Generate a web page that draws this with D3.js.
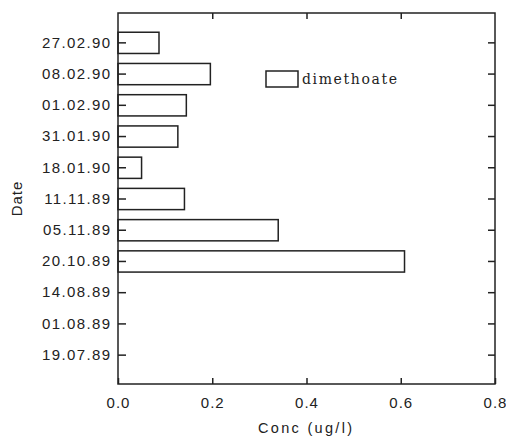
<!DOCTYPE html>
<html>
<head>
<meta charset="utf-8">
<script src="https://cdn.jsdelivr.net/npm/d3@7"></script>
<style>
  html, body { margin: 0; padding: 0; background: #fff; }
  svg { display: block; }
  text { fill: #222; }
</style>
</head>
<body>
<svg id="chart" width="506" height="441"></svg>
<script>
// ---- data ----
const dates = ["27.02.90", "08.02.90", "01.02.90", "31.01.90", "18.01.90", "11.11.89",
               "05.11.89", "20.10.89", "14.08.89", "01.08.89", "19.07.89"];
const dimethoate = [0.087, 0.196, 0.145, 0.127, 0.050, 0.141, 0.340, 0.608, null, null, null];
const xTicks = [0.0, 0.2, 0.4, 0.6, 0.8];
const seriesName = "dimethoate";
const xTitle = "Conc (ug/l)";
const yTitle = "Date";

// ---- layout ----
const pL = 118, pR = 495, pT = 13, pB = 384;
const ink = "#222";
const svg = d3.select("#chart");

const x = d3.scaleLinear().domain([0, 0.8]).range([pL, pR]);
const y = d3.scalePoint().domain(dates).range([pT, pB]).padding(0.94);
const barH = y.step() * 0.68;

// bars
const rows = dates.map((d, i) => ({ date: d, v: dimethoate[i] })).filter(r => r.v != null);
svg.append("g").selectAll("rect").data(rows).join("rect")
  .attr("x", x(0))
  .attr("y", d => y(d.date) - barH / 2 + 0.5)
  .attr("width", d => x(d.v) - x(0))
  .attr("height", barH)
  .attr("fill", "#fff")
  .attr("stroke", ink)
  .attr("stroke-width", 1.5);

// axes
const fontSans = "'Liberation Sans', Arial, sans-serif";
const gL = svg.append("g").attr("transform", `translate(${pL},0)`)
  .call(d3.axisLeft(y).tickSize(-8).tickPadding(6.5));
gL.selectAll("text").attr("font-family", fontSans).attr("font-size", 15)
  .attr("letter-spacing", 1.4).attr("fill", ink);

const gR = svg.append("g").attr("transform", `translate(${pR},0)`)
  .call(d3.axisRight(y).tickSize(-7).tickFormat(""));

const gB = svg.append("g").attr("transform", `translate(0,${pB})`)
  .call(d3.axisBottom(x).tickValues(xTicks).tickSize(-6).tickPadding(13).tickFormat(d3.format(".1f")));
gB.selectAll("text").attr("font-family", fontSans).attr("font-size", 15)
  .attr("letter-spacing", 1).attr("fill", ink);

const gT = svg.append("g").attr("transform", `translate(0,${pT})`)
  .call(d3.axisTop(x).tickValues(xTicks.slice(1, -1)).tickSize(-6).tickFormat(""));

[gL, gR, gB, gT].forEach(g => {
  g.select(".domain").remove();
  g.selectAll("line").attr("stroke", ink).attr("stroke-width", 1.5);
});

// frame
svg.append("rect")
  .attr("x", pL).attr("y", pT)
  .attr("width", pR - pL).attr("height", pB - pT)
  .attr("fill", "none").attr("stroke", ink).attr("stroke-width", 1.5);

// legend
svg.append("rect")
  .attr("x", 266).attr("y", 71).attr("width", 32).attr("height", 16)
  .attr("fill", "#fff").attr("stroke", ink).attr("stroke-width", 1.5);
svg.append("text")
  .attr("x", 302).attr("y", 84)
  .attr("font-family", "'DejaVu Serif', serif").attr("font-size", 14)
  .attr("textLength", 95).attr("lengthAdjust", "spacing")
  .text(seriesName);

// axis titles
svg.append("text")
  .attr("x", 258).attr("y", 433)
  .attr("font-family", fontSans).attr("font-size", 14.5)
  .attr("textLength", 94).attr("lengthAdjust", "spacing")
  .text(xTitle);

svg.append("text")
  .attr("transform", `translate(22,${(pT + pB) / 2}) rotate(-90)`)
  .attr("text-anchor", "middle")
  .attr("font-family", fontSans).attr("font-size", 15).attr("letter-spacing", 1)
  .text(yTitle);
</script>
</body>
</html>
